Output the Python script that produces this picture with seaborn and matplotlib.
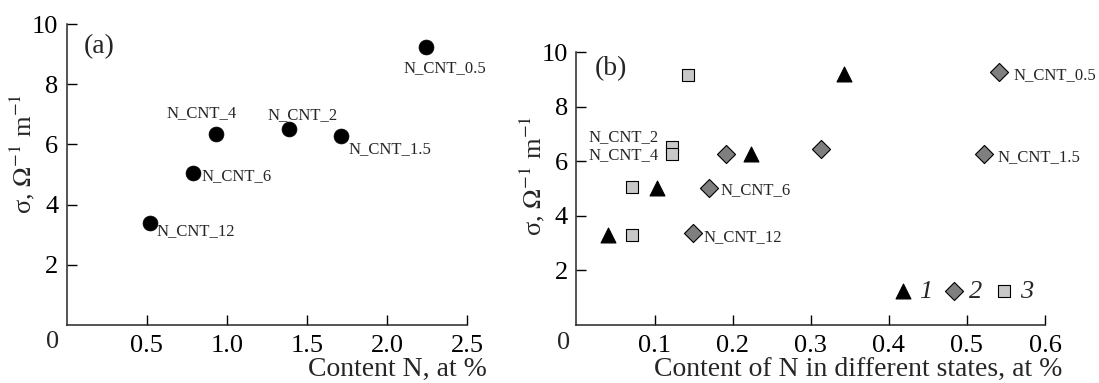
import seaborn as sns
import pandas as pd
import matplotlib.pyplot as plt

sns.set_style("ticks")
plt.rcParams['font.family'] = ['Liberation Serif', 'DejaVu Serif']
plt.rcParams['mathtext.fontset'] = 'stix'

# panel (a): total N content vs conductivity
samples = ["N_CNT_0.5", "N_CNT_1.5", "N_CNT_2", "N_CNT_4", "N_CNT_6", "N_CNT_12"]
content_n = [2.24, 1.71, 1.39, 0.93, 0.79, 0.52]
sigma = [9.25, 6.27, 6.51, 6.35, 5.05, 3.39]

# panel (b): N content in different states
state1_x = [0.040, 0.103, 0.223, 0.343]
state1_y = [3.30, 5.01, 6.27, 9.20]
state2_x = [0.541, 0.522, 0.313, 0.192, 0.170, 0.149]
state2_y = [9.27, 6.26, 6.43, 6.28, 5.01, 3.36]
state3_x = [0.143, 0.122, 0.122, 0.071, 0.071]
state3_y = [9.14, 6.53, 6.26, 5.07, 3.30]

df_a = pd.DataFrame({"sample": samples, "x": content_n, "y": sigma})

fig = plt.figure(figsize=(10.99, 3.83), dpi=100)
ax1 = fig.add_axes([0.0607, 0.1514, 0.3646, 0.7856])
ax2 = fig.add_axes([0.5245, 0.1514, 0.4264, 0.7128])

sns.scatterplot(data=df_a, x="x", y="y", ax=ax1, color="black", s=115,
                edgecolor="black", linewidth=0.5, legend=False)

# label offsets in pixels (dx, dy, ha)
offs_a = {"N_CNT_0.5": (19, -21, "center"), "N_CNT_1.5": (8, -13, "left"),
          "N_CNT_2": (13, 14, "center"), "N_CNT_4": (-14, 21, "center"),
          "N_CNT_6": (8, -3, "left"), "N_CNT_12": (6, -8, "left")}
for s, x, y in zip(samples, content_n, sigma):
    dx, dy, ha = offs_a[s]
    ax1.annotate(s, (x, y), xytext=(dx, dy), textcoords="offset pixels",
                 fontsize=12, ha=ha, va="center")

ax1.set_xlim(0, 2.5)
ax1.set_ylim(0, 10)
ax1.set_xticks([0.5, 1.0, 1.5, 2.0, 2.5])
ax1.set_xticklabels(["0.5", "1.0", "1.5", "2.0", "2.5"])
ax1.set_yticks([2, 4, 6, 8, 10])
ax1.text(0.081, 0.924, "(a)", transform=ax1.transAxes, fontsize=20, ha="center", va="center")
ax1.text(-0.035, -0.058, "0", transform=ax1.transAxes, fontsize=19, ha="center", va="center")
ax1.set_xlabel("Content N, at %", fontsize=20)
ax1.xaxis.set_label_coords(1.049, -0.169)
ax1.xaxis.label.set_ha("right")
ax1.xaxis.label.set_va("baseline")
ax1.set_ylabel(r"σ, $\Omega^{-1}$ m$^{-1}$", fontsize=19)
ax1.yaxis.set_label_coords(-0.074, 0.568)

for x, y, mk, fc, sz, lab in [(state1_x, state1_y, "^", "black", 115, "1"),
                              (state2_x, state2_y, "D", "#7f7f7f", 85, "2"),
                              (state3_x, state3_y, "s", "#c8c8c8", 75, "3")]:
    sns.scatterplot(x=x, y=y, ax=ax2, marker=mk, color=fc, s=sz,
                    edgecolor="black", linewidth=0.8, label=lab)

offs_b = [("N_CNT_0.5", 0.541, 9.27, 15, -3, "left"),
          ("N_CNT_1.5", 0.522, 6.26, 13, -3, "left"),
          ("N_CNT_6", 0.170, 5.01, 11, -2, "left"),
          ("N_CNT_12", 0.149, 3.36, 11, -4, "left"),
          ("N_CNT_2", 0.122, 6.53, -13, 10, "right"),
          ("N_CNT_4", 0.122, 6.26, -13, -1, "right")]
for s, x, y, dx, dy, ha in offs_b:
    ax2.annotate(s, (x, y), xytext=(dx, dy), textcoords="offset pixels",
                 fontsize=12, ha=ha, va="center")

ax2.set_xlim(0, 0.6)
ax2.set_ylim(0, 10)
ax2.set_xticks([0.1, 0.2, 0.3, 0.4, 0.5, 0.6])
ax2.set_yticks([2, 4, 6, 8, 10])
ax2.text(0.073, 0.938, "(b)", transform=ax2.transAxes, fontsize=20, ha="center", va="center")
ax2.text(-0.0275, -0.066, "0", transform=ax2.transAxes, fontsize=19, ha="center", va="center")
ax2.set_xlabel("Content of N in different states, at %", fontsize=20)
ax2.xaxis.set_label_coords(1.036, -0.187)
ax2.xaxis.label.set_ha("right")
ax2.xaxis.label.set_va("baseline")
ax2.set_ylabel(r"σ, $\Omega^{-1}$ m$^{-1}$", fontsize=19)
ax2.yaxis.set_label_coords(-0.063, 0.546)
ax2.legend(loc="center right", bbox_to_anchor=(0.974, 0.125), ncol=3, frameon=False,
           handlelength=0.6, handletextpad=0.3, columnspacing=0.5, borderaxespad=0.0,
           borderpad=0.0, prop={"family": "Liberation Serif", "style": "italic", "size": 19})

for ax in (ax1, ax2):
    sns.despine(ax=ax)
    ax.tick_params(direction="in", length=7, width=1, labelsize=19, colors="black")
    ax.tick_params(axis="x", pad=7)
    ax.tick_params(axis="y", pad=6)
    for sp in ax.spines.values():
        sp.set_linewidth(1.1)

fig.savefig("out.png", dpi=100)
